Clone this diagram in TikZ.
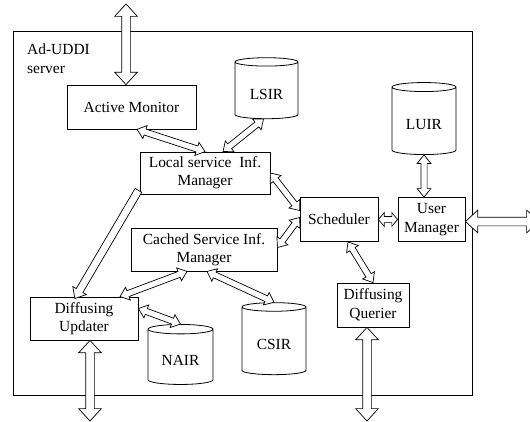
\documentclass[tikz,border=0pt]{standalone}
\usepackage{fontspec}
\setmainfont{Liberation Serif}
\usetikzlibrary{shapes.geometric, shapes.arrows, calc}

\tikzset{
  box/.style={draw, fill=white, line width=0.8bp, align=center, inner sep=1bp},
  db/.style={cylinder, shape border rotate=90, aspect=0.25, draw, fill=white, line width=0.8bp,
    inner sep=0pt, text height=17bp, text depth=0pt},
  dbl/.style={double arrow, draw, fill=white, line width=0.7bp, inner xsep=0pt, inner ysep=2.75bp,
    double arrow head extend=3.75bp, double arrow tip angle=78, double arrow head indent=0pt},
  ext/.style={inner ysep=4bp, double arrow head extend=7bp, double arrow tip angle=85},
  one/.style={single arrow, draw, fill=white, line width=0.7bp, inner xsep=0pt, inner ysep=3.5bp,
    single arrow head extend=4bp, single arrow tip angle=80, single arrow head indent=0pt}
}
% hollow arrow from #2 to #3, laid along the line
\newcommand{\hollow}[3][dbl]{%
  \path let \p1=($#3-#2$), \n1={veclen(\x1,\y1)} in #2 -- #3
    node[midway, sloped, allow upside down, #1, minimum height=\n1] {};}

\begin{document}
\begin{tikzpicture}[x=1bp, y=-1bp, every node/.style={font=\fontsize{15.5}{18.5}\selectfont}]
    \useasboundingbox (0,0) rectangle (530,421);

    % Server frame
    \draw[line width=0.8bp] (13,31) rectangle (472,395);
    \node[anchor=north west, align=left, inner sep=0pt] (title) at (27,44) {Ad-UDDI\\server};

    % Managers
    \node[box, minimum width=129bp, minimum height=44bp] (am) at (131.5,107) {Active Monitor};
    \node[box, minimum width=130bp, minimum height=42bp] (lsm) at (205,173) {Local service~ Inf.\\Manager};
    \node[box, minimum width=146bp, minimum height=43bp] (csm) at (204,249.5) {Cached Service Inf.\\Manager};
    \node[box, minimum width=78bp, minimum height=44bp] (sch) at (339,219.5) {Scheduler};
    \node[box, minimum width=67bp, minimum height=44bp] (um) at (431.5,219.5) {User\\Manager};
    \node[box, minimum width=108bp, minimum height=43bp] (du) at (84,318.5) {Diffusing\\Updater};
    \node[box, minimum width=72bp, minimum height=44bp] (dq) at (373,305) {Diffusing\\Querier};

    % Repositories
    \node[db, minimum width=63bp, minimum height=61bp] (lsir) at (266.5,90.5) {LSIR};
    \node[db, minimum width=64bp, minimum height=72bp] (luir) at (424,121) {LUIR};
    \node[db, minimum width=65bp, minimum height=60bp] (nair) at (180.5,357) {NAIR};
    \node[db, minimum width=64bp, minimum height=72bp] (csir) at (274,341) {CSIR};

    % Outside ends
    \coordinate (netA) at (126,4);
    \coordinate (netB) at (90,421);
    \coordinate (netC) at (367,421);
    \coordinate (netD) at (539,221.5);

    % Arrows
    \hollow{([xshift=5.5bp]am.south)}{(lsm.north)}
    \hollow{([xshift=-3bp]lsir.south)}{([xshift=18bp]lsm.north)}
    \hollow[one]{([yshift=6bp]lsm.south west)}{([xshift=-8bp]du.north)}
    \hollow{(lsm.east)}{([yshift=9bp]sch.west)}
    \hollow{([yshift=2bp]csm.east)}{([yshift=2bp]sch.west)}
    \hollow[dbl, double arrow tip angle=100]{(sch.east)}{(um.west)}
    \hollow{(luir.south)}{([xshift=-7.5bp]um.north)}
    \hollow{([xshift=-17bp]csm.south)}{([xshift=36bp]du.north)}
    \hollow{([xshift=3bp]csm.south)}{(csir.north)}
    \hollow{([yshift=10bp]du.east)}{(nair.north)}
    \hollow{([xshift=9bp]sch.south)}{(dq.north)}

    % External links
    \hollow[dbl, ext]{(netA)}{([xshift=-5.5bp]am.north)}
    \hollow[dbl, ext]{([xshift=6bp]du.south)}{(netB)}
    \hollow[dbl, ext]{([xshift=-6bp]dq.south)}{(netC)}
    \hollow[dbl, ext]{([yshift=-2bp]um.east)}{(netD)}
\end{tikzpicture}
\end{document}
